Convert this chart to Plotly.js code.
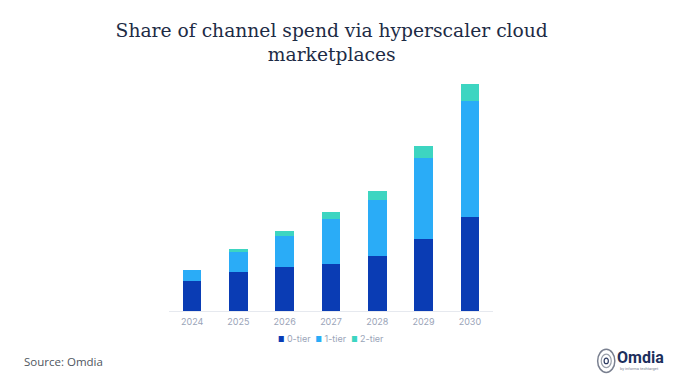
<!DOCTYPE html>
<html>
<head>
<meta charset="utf-8">
<script src="https://cdn.plot.ly/plotly-3.0.1.min.js"></script>
<style>html,body{margin:0;padding:0;background:#fff;}#chart{width:677px;height:379px;}</style>
</head>
<body>
<div id="chart"></div>
<script>
const years = ["2024", "2025", "2026", "2027", "2028", "2029", "2030"];
const tier0 = [3.0, 3.9, 4.4, 4.7, 5.5, 7.2, 9.4];
const tier1 = [1.1, 2.0, 3.1, 4.5, 5.6, 8.1, 11.6];
const tier2 = [0.05, 0.3, 0.5, 0.7, 0.9, 1.2, 1.7];
const seriesNames = ["0-tier", "1-tier", "2-tier"];
const seriesColors = ["#0a3cb4", "#2aacf7", "#3dd5c1"];

const data = [tier0, tier1, tier2].map((vals, i) => ({
  type: "bar",
  x: years,
  y: vals,
  name: seriesNames[i],
  marker: {color: seriesColors[i]},
  hoverinfo: "skip"
}));

const legendText = seriesNames.map((n, i) =>
  '<span style="color:' + seriesColors[i] + ';font-size:7px">■</span> ' + n).join("  ");

const layout = {
  width: 677, height: 379,
  paper_bgcolor: "#ffffff", plot_bgcolor: "#ffffff",
  margin: {l: 169, r: 184, t: 80, b: 68},
  barmode: "stack",
  bargap: 0.6,
  title: {
    text: "Share of channel spend via hyperscaler cloud<br>marketplaces",
    font: {family: "'DejaVu Serif', serif", size: 18.7, color: "#1d2b45"},
    x: 0.49, xanchor: "center", y: 0.902, yanchor: "top"
  },
  xaxis: {
    type: "category",
    showgrid: false, zeroline: false,
    showline: true, linecolor: "#e6e9ef", linewidth: 1,
    ticks: "", tickfont: {family: "Inter, Roboto, sans-serif", size: 9, color: "#9aa4b8"},
    ticklabelstandoff: 2
  },
  yaxis: {
    range: [0, 23.1], visible: false, showgrid: false, zeroline: false
  },
  showlegend: false,
  annotations: [
    {text: legendText, xref: "paper", yref: "paper", x: 0.5, y: -0.121,
     xanchor: "center", yanchor: "middle", showarrow: false,
     font: {family: "Inter, Roboto, sans-serif", size: 9, color: "#9aa4b8"}},
    {text: "Source: Omdia", xref: "paper", yref: "paper", x: -0.4537, y: -0.218,
     xanchor: "left", yanchor: "middle", showarrow: false,
     font: {family: "Open Sans, Noto Sans, sans-serif", size: 11.5, color: "#4f5660"}},
    {text: "<b>Omdia</b>", xref: "paper", yref: "paper", x: 1.375, y: -0.2,
     xanchor: "left", yanchor: "middle", showarrow: false,
     font: {family: "Roboto, Inter, sans-serif", size: 16, color: "#1c2f5c"}},
    {text: "by informa techtarget", xref: "paper", yref: "paper", x: 1.385, y: -0.248,
     xanchor: "left", yanchor: "middle", showarrow: false,
     font: {family: "Roboto, sans-serif", size: 4, color: "#7a8090"}}
  ],
  shapes: [
    {type: "circle", xref: "paper", yref: "paper", x0: 1.323, x1: 1.376, y0: -0.266, y1: -0.166,
     line: {color: "#7a8090", width: 1.5}},
    {type: "circle", xref: "paper", yref: "paper", x0: 1.334, x1: 1.365, y0: -0.245, y1: -0.187,
     line: {color: "#9aa0aa", width: 1.2}},
    {type: "circle", xref: "paper", yref: "paper", x0: 1.343, x1: 1.356, y0: -0.228, y1: -0.204,
     fillcolor: "#ffffff", line: {color: "#2c3a60", width: 1.2}}
  ]
};

Plotly.newPlot("chart", data, layout, {displayModeBar: false, staticPlot: true});
</script>
</body>
</html>
